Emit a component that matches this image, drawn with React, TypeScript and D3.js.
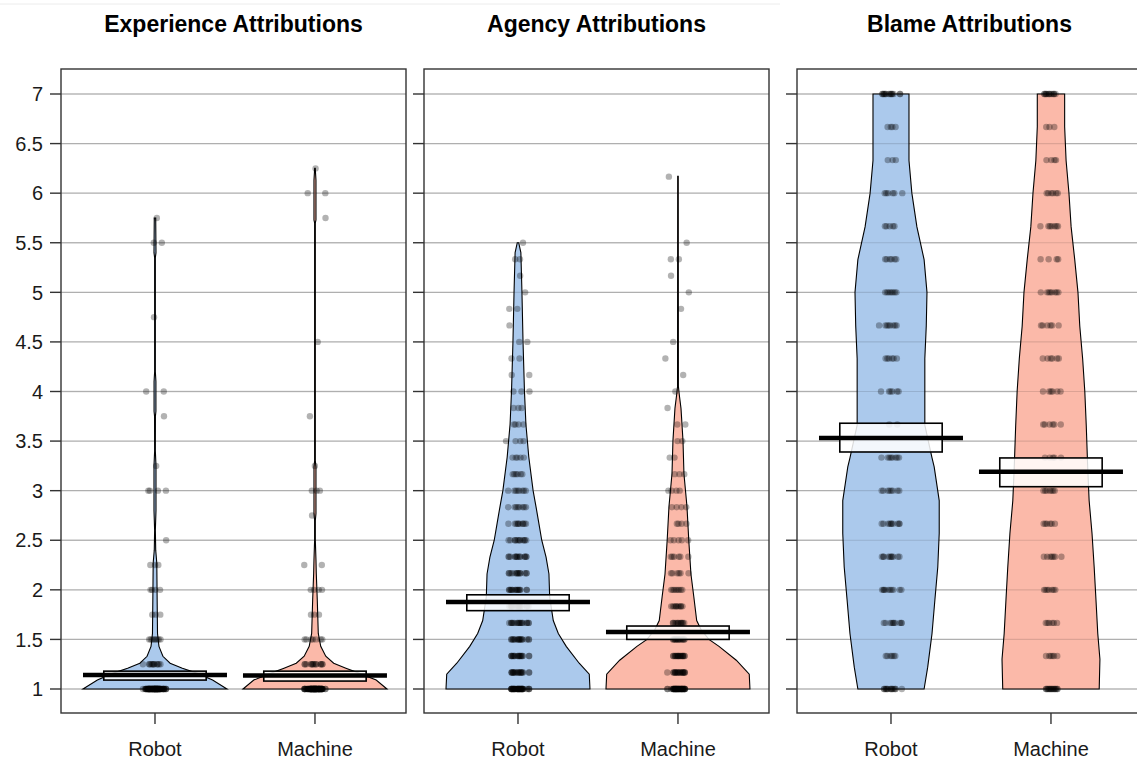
import React from "react";
import * as d3 from "d3";

// ---------- data ----------
const categories = ["Robot", "Machine"];
const panelTitles = ["Experience Attributions", "Agency Attributions", "Blame Attributions"];
const yTickValues = [1, 1.5, 2, 2.5, 3, 3.5, 4, 4.5, 5, 5.5, 6, 6.5, 7];
const yTickLabels = ["1", "1.5", "2", "2.5", "3", "3.5", "4", "4.5", "5", "5.5", "6", "6.5", "7"];

// means and inference bands [low, high] per category
const experienceMeans = [1.14, 1.135];
const experienceBands = [[1.09, 1.18], [1.08, 1.18]];
const agencyMeans = [1.877, 1.575];
const agencyBands = [[1.79, 1.95], [1.5, 1.635]];
const blameMeans = [3.53, 3.19];
const blameBands = [[3.39, 3.68], [3.04, 3.33]];

// bean density profiles: [value, relative width]
const experienceRobotDensity = [
  [1, 1], [1.09, 0.8], [1.16, 0.58], [1.21, 0.38], [1.26, 0.21], [1.33, 0.11], [1.43, 0.055],
  [1.56, 0.035], [1.9, 0.03], [2.27, 0.025], [2.4, 0.01], [2.6, 0.005], [2.8, 0.014], [3.25, 0.014],
  [3.4, 0.005], [3.75, 0.006], [3.8, 0.013], [4.1, 0.013], [4.2, 0.005], [5.35, 0.005], [5.4, 0.014],
  [5.75, 0.01],
];
const experienceMachineDensity = [
  [1, 1], [1.09, 0.85], [1.16, 0.61], [1.21, 0.43], [1.26, 0.26], [1.33, 0.15], [1.43, 0.08],
  [1.56, 0.046], [1.9, 0.032], [2.17, 0.018], [2.3, 0.014], [2.5, 0.005], [2.7, 0.005], [2.77, 0.014],
  [3.24, 0.014], [3.3, 0.005], [5.7, 0.005], [5.73, 0.014], [6.13, 0.014], [6.25, 0.004],
];
const agencyRobotDensity = [
  [1, 1], [1.15, 0.99], [1.26, 0.85], [1.43, 0.67], [1.56, 0.56], [1.69, 0.49], [1.93, 0.44],
  [2.16, 0.43], [2.33, 0.39], [2.5, 0.33], [2.67, 0.29], [2.84, 0.25], [3.0, 0.21], [3.34, 0.15],
  [3.67, 0.11], [4.0, 0.09], [4.5, 0.07], [5.0, 0.055], [5.4, 0.04], [5.5, 0.01],
];
const agencyMachineDensity = [
  [1, 1], [1.15, 0.99], [1.29, 0.81], [1.43, 0.57], [1.5, 0.43], [1.6, 0.32], [1.69, 0.26],
  [1.93, 0.22], [2.16, 0.18], [2.5, 0.15], [2.84, 0.125], [3.17, 0.083], [3.5, 0.07], [3.83, 0.042],
  [3.97, 0.018], [4.05, 0.006], [6.17, 0.004],
];
const blameRobotDensity = [
  [1.0, 0.46], [1.22, 0.51], [1.56, 0.57], [1.9, 0.61], [2.23, 0.65], [2.57, 0.67], [2.9, 0.67],
  [3.24, 0.6], [3.33, 0.57], [3.66, 0.47], [4.0, 0.47], [4.33, 0.47], [4.66, 0.49], [5.0, 0.5],
  [5.33, 0.46], [5.66, 0.36], [6.0, 0.29], [6.33, 0.25], [6.67, 0.25], [7, 0.25],
];
const blameMachineDensity = [
  [1.0, 0.67], [1.3, 0.68], [1.56, 0.65], [1.9, 0.625], [2.23, 0.6], [2.57, 0.57], [2.9, 0.53],
  [3.24, 0.51], [3.66, 0.49], [4.0, 0.47], [4.33, 0.44], [4.66, 0.4], [5.0, 0.375], [5.33, 0.33],
  [5.66, 0.28], [6.0, 0.25], [6.33, 0.21], [6.67, 0.19], [7, 0.19],
];

// raw responses as [value, count]
const experienceRobotPoints = [
  [1, 90], [1.25, 12], [1.5, 8], [1.75, 3], [2, 4], [2.25, 3], [2.5, 1], [3, 4], [3.25, 1],
  [3.75, 1], [4, 2], [4.75, 1], [5.5, 2], [5.75, 1],
];
const experienceMachinePoints = [
  [1, 90], [1.25, 14], [1.5, 7], [1.75, 3], [2, 4], [2.25, 2], [2.75, 1], [3, 3], [3.25, 1],
  [3.75, 1], [4.5, 1], [5.75, 1], [6, 2], [6.25, 1],
];
const agencyRobotPoints = [
  [1, 40], [1.1667, 20], [1.3333, 18], [1.5, 18], [1.6667, 18], [1.8333, 16], [2, 16], [2.1667, 14],
  [2.3333, 14], [2.5, 12], [2.6667, 10], [2.8333, 8], [3, 8], [3.1667, 6], [3.3333, 5], [3.5, 4],
  [3.6667, 4], [3.8333, 3], [4, 3], [4.1667, 2], [4.3333, 2], [4.5, 2], [4.6667, 1], [4.8333, 2],
  [5, 1], [5.1667, 1], [5.3333, 2], [5.5, 1],
];
const agencyMachinePoints = [
  [1, 45], [1.1667, 20], [1.3333, 18], [1.5, 15], [1.6667, 12], [1.8333, 10], [2, 8], [2.1667, 6],
  [2.3333, 6], [2.5, 5], [2.6667, 4], [2.8333, 4], [3, 4], [3.1667, 3], [3.3333, 2], [3.5, 2],
  [3.6667, 2], [3.8333, 1], [4, 1], [4.1667, 1], [4.3333, 1], [4.5, 1], [4.8333, 1], [5, 1],
  [5.1667, 1], [5.3333, 2], [5.5, 1], [6.1667, 1],
];
const blameRobotPoints = [
  [1, 14], [1.3333, 6], [1.6667, 10], [2, 10], [2.3333, 10], [2.6667, 10], [3, 8], [3.3333, 8],
  [3.6667, 2], [4, 6], [4.3333, 6], [4.6667, 8], [5, 8], [5.3333, 6], [5.6667, 5], [6, 6],
  [6.3333, 3], [6.6667, 4], [7, 14],
];
const blameMachinePoints = [
  [1, 16], [1.3333, 6], [1.6667, 6], [2, 7], [2.3333, 7], [2.6667, 6], [3, 7], [3.3333, 5],
  [3.6667, 6], [4, 6], [4.3333, 6], [4.6667, 6], [5, 8], [5.3333, 4], [5.6667, 7], [6, 6],
  [6.3333, 4], [6.6667, 3], [7, 12],
];

const panels = [
  {
    title: panelTitles[0],
    means: experienceMeans,
    bands: experienceBands,
    densities: [experienceRobotDensity, experienceMachineDensity],
    points: [experienceRobotPoints, experienceMachinePoints],
  },
  {
    title: panelTitles[1],
    means: agencyMeans,
    bands: agencyBands,
    densities: [agencyRobotDensity, agencyMachineDensity],
    points: [agencyRobotPoints, agencyMachinePoints],
  },
  {
    title: panelTitles[2],
    means: blameMeans,
    bands: blameBands,
    densities: [blameRobotDensity, blameMachineDensity],
    points: [blameRobotPoints, blameMachinePoints],
  },
];

// ---------- style / layout ----------
const W = 1137;
const H = 761;
const panelLefts = [61, 424, 797];
const panelW = 345;
const panelTop = 69;
const panelBottom = 713;
const beanColors = ["#abc9ec", "#fbb9a9"];
const FONT = "'Liberation Sans', Arial, Helvetica, sans-serif";
const WIDTH_MAX = 0.45;
const BAND_HALF = 0.32;
const JITTER = 0.08;

const y = d3.scaleLinear().domain([1, 7]).range([689, 94]);
const xInner = d3.scaleLinear().domain([0.4125, 2.569]).range([0, panelW]);

// deterministic jitter, concentrated toward the centre (triangular-like)
function jitterOffset(i: number, seed: number) {
  const a = (i * 0.6180339887 + seed * 0.37) % 1;
  const b = (i * 0.7548776662 + seed * 0.53 + 0.21) % 1;
  return a + b - 1;
}

function Panel({ p, idx }: { p: any; idx: number }) {
  const left = panelLefts[idx];
  const x = (v: number) => left + xInner(v);
  const unit = xInner(1) - xInner(0);

  return (
    <g>
      {yTickValues.map((t) => (
        <line key={"g" + t} x1={left} x2={left + panelW} y1={y(t)} y2={y(t)} stroke="#c8c8c8" strokeWidth={1.4} />
      ))}
      {categories.map((c, ci) => {
        const cx = x(ci + 1);
        const area = d3
          .area<number[]>()
          .y((d) => y(d[0]))
          .x0((d) => cx - d[1] * WIDTH_MAX * unit)
          .x1((d) => cx + d[1] * WIDTH_MAX * unit)
          .curve(d3.curveLinear);
        return (
          <path key={"b" + c} d={area(p.densities[ci] as number[][]) || ""} fill={beanColors[ci]} stroke="#000" strokeWidth={1.1} />
        );
      })}
      {yTickValues.map((t) => (
        <line key={"g2" + t} x1={left} x2={left + panelW} y1={y(t)} y2={y(t)} stroke="#000" strokeOpacity={0.12} strokeWidth={1.2} />
      ))}
      {categories.map((c, ci) => {
        const cx = x(ci + 1);
        const dots: any[] = [];
        (p.points[ci] as number[][]).forEach(([v, n], li) => {
          for (let k = 0; k < n; k++) {
            const off = jitterOffset(k + li * 7, ci + idx * 3);
            dots.push(
              <circle key={c + li + "_" + k} cx={cx + off * JITTER * unit} cy={y(v)} r={3.2} fill="#000" fillOpacity={0.3} />
            );
          }
        });
        return <g key={"p" + c}>{dots}</g>;
      })}
      {categories.map((c, ci) => {
        const cx = x(ci + 1);
        const [lo, hi] = p.bands[ci];
        return (
          <g key={"m" + c}>
            <rect
              x={cx - BAND_HALF * unit}
              y={y(hi)}
              width={2 * BAND_HALF * unit}
              height={y(lo) - y(hi)}
              fill="#fff"
              fillOpacity={0.85}
              stroke="#000"
              strokeWidth={1.6}
            />
            <line
              x1={cx - WIDTH_MAX * unit}
              x2={cx + WIDTH_MAX * unit}
              y1={y(p.means[ci])}
              y2={y(p.means[ci])}
              stroke="#000"
              strokeWidth={4.5}
            />
          </g>
        );
      })}
      <rect x={left} y={panelTop} width={panelW} height={panelBottom - panelTop} fill="none" stroke="#333" strokeWidth={1.4} />
      {yTickValues.map((t) => (
        <line key={"t" + t} x1={left - 11} x2={left} y1={y(t)} y2={y(t)} stroke="#333" strokeWidth={1.4} />
      ))}
      {idx === 0 &&
        yTickValues.map((t, ti) => (
          <text key={"l" + t} x={43} y={y(t)} dy="0.36em" textAnchor="end" fontFamily={FONT} fontSize={20} fill="#1a1a1a">
            {yTickLabels[ti]}
          </text>
        ))}
      {categories.map((c, ci) => (
        <g key={"x" + c}>
          <line x1={x(ci + 1)} x2={x(ci + 1)} y1={panelBottom} y2={panelBottom + 11} stroke="#333" strokeWidth={1.4} />
          <text x={x(ci + 1)} y={756} textAnchor="middle" fontFamily={FONT} fontSize={20} fill="#1a1a1a">
            {c}
          </text>
        </g>
      ))}
      <text x={left + panelW / 2} y={32} textAnchor="middle" fontFamily={FONT} fontSize={23} fontWeight="bold" fill="#000">
        {p.title}
      </text>
    </g>
  );
}

export default function App() {
  return (
    <svg
      width={W}
      height={H}
      viewBox={`0 0 ${W} ${H}`}
      style={{ position: "absolute", left: 0, top: 0, background: "#fff" }}
    >
      <rect x={0} y={0} width={W} height={H} fill="#fff" />
      <line x1={0} x2={780} y1={4} y2={4} stroke="#ececec" strokeWidth={1} />
      {panels.map((p, i) => (
        <Panel key={i} p={p} idx={i} />
      ))}
    </svg>
  );
}
